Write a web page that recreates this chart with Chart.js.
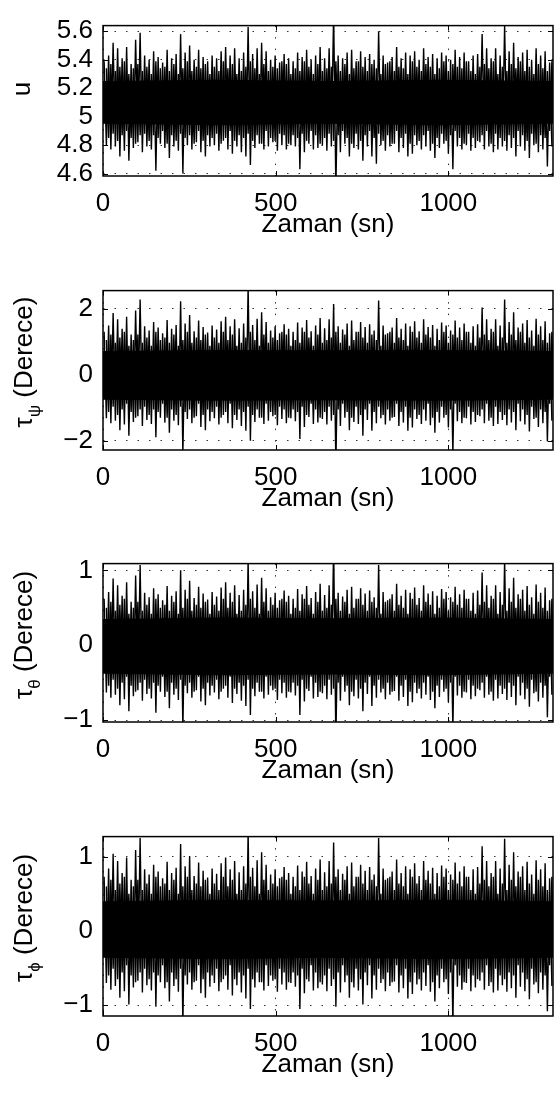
<!DOCTYPE html>
<html>
<head>
<meta charset="utf-8">
<script src="https://cdn.jsdelivr.net/npm/chart.js@4/dist/chart.umd.min.js"></script>
<style>
html, body { margin: 0; padding: 0; background: #fff; }
body { width: 560px; height: 1095px; position: relative; overflow: hidden; font-family: "Liberation Sans", Arial, sans-serif; }
.panel { position: absolute; left: 0; width: 560px; }
.ylab { position: absolute; white-space: nowrap; font-size: 26px; line-height: 26px; color: #000;
  transform: translate(-50%, -50%) rotate(-90deg); }
.ylab sub { font-size: 17px; vertical-align: -8px; }
</style>
</head>
<body>
<div class="panel" style="top:0px"><canvas id="u-chart" width="560" height="248"></canvas></div>
<div class="panel" style="top:265px"><canvas id="psi-chart" width="560" height="257"></canvas></div>
<div class="panel" style="top:538px"><canvas id="theta-chart" width="560" height="256"></canvas></div>
<div class="panel" style="top:811px"><canvas id="phi-chart" width="560" height="277"></canvas></div>

<div class="ylab" style="left:21px;top:89px">u</div>
<div class="ylab" style="left:29px;top:362px">τ<sub>ψ</sub> (Derece)</div>
<div class="ylab" style="left:29px;top:635px">τ<sub>θ</sub> (Derece)</div>
<div class="ylab" style="left:29px;top:918px">τ<sub>ϕ</sub> (Derece)</div>

<script>
var FONT = '"Liberation Sans", Arial, sans-serif';

// time axis (seconds)
var timeEnd = 1303;
var timeTicks = [0, 500, 1000];

// outer peaks of each trace: top, bottom, top, bottom ...
var uPeaks = [
  5.39,4.80, 5.43,4.77, 5.52,4.79, 5.48,4.72, 5.41,4.76, 5.49,4.69, 5.37,4.78, 5.54,4.82, 5.59,4.75, 5.43,4.79,
  5.40,4.77, 5.46,4.62, 5.42,4.81, 5.38,4.78, 5.47,4.71, 5.41,4.79, 5.44,4.76, 5.58,4.60, 5.45,4.80, 5.50,4.77,
  5.40,4.82, 5.47,4.75, 5.42,4.72, 5.39,4.79, 5.43,4.80, 5.41,4.76, 5.46,4.83, 5.49,4.77, 5.43,4.74, 5.48,4.79,
  5.41,4.75, 5.45,4.72, 5.63,4.66, 5.44,4.78, 5.48,4.81, 5.52,4.77, 5.46,4.79, 5.40,4.82, 5.43,4.76, 5.38,4.80,
  5.44,4.77, 5.41,4.80, 5.39,4.79, 5.45,4.63, 5.42,4.75, 5.47,4.81, 5.40,4.77, 5.43,4.78, 5.49,4.80, 5.41,4.76,
  5.48,4.79, 5.73,4.49, 5.43,4.75, 5.41,4.81, 5.45,4.72, 5.47,4.78, 5.39,4.77, 5.46,4.69, 5.42,4.79, 5.44,4.72,
  5.40,4.67, 5.60,4.80, 5.43,4.76, 5.38,4.79, 5.42,4.81, 5.49,4.75, 5.41,4.78, 5.45,4.72, 5.43,4.74, 5.46,4.80,
  5.40,4.77, 5.48,4.79, 5.42,4.76, 5.44,4.71, 5.41,4.78, 5.45,4.81, 5.43,4.74, 5.40,4.63, 5.47,4.79, 5.42,4.77,
  5.45,4.80, 5.39,4.76, 5.43,4.78, 5.44,4.82, 5.58,4.77, 5.48,4.79, 5.41,4.75, 5.48,4.77, 5.43,4.79, 5.64,4.76,
  5.46,4.78, 5.52,4.72, 5.42,4.79, 5.45,4.76, 5.47,4.71, 5.40,4.80, 5.48,4.75, 5.43,4.77, 5.46,4.65, 5.38,4.79
];
var psiPeaks = [
  1.30,-1.32, 1.49,-1.47, 1.87,-1.39, 1.68,-1.68, 1.39,-1.51, 1.76,-1.85, 1.22,-1.43, 1.95,-1.26, 2.28,-1.55, 1.47,-1.37,
  1.34,-1.49, 1.60,-1.89, 1.43,-1.30, 1.26,-1.45, 1.66,-1.76, 1.39,-1.39, 1.51,-1.53, 2.23,-2.40, 1.55,-1.34, 1.81,-1.47,
  1.32,-1.26, 1.64,-1.58, 1.45,-1.68, 1.28,-1.41, 1.49,-1.32, 1.37,-1.51, 1.62,-1.22, 1.76,-1.47, 1.47,-1.62, 1.68,-1.37,
  1.41,-1.55, 1.55,-1.70, 2.70,-2.00, 1.51,-1.43, 1.70,-1.30, 1.89,-1.49, 1.60,-1.39, 1.34,-1.26, 1.47,-1.53, 1.26,-1.34,
  1.53,-1.47, 1.39,-1.32, 1.30,-1.41, 1.58,-1.95, 1.43,-1.58, 1.66,-1.28, 1.32,-1.49, 1.49,-1.45, 1.72,-1.34, 1.41,-1.51,
  1.68,-1.39, 2.14,-2.73, 1.47,-1.55, 1.37,-1.30, 1.55,-1.68, 1.64,-1.43, 1.30,-1.49, 1.60,-1.85, 1.45,-1.37, 1.53,-1.70,
  1.34,-1.47, 2.25,-1.32, 1.49,-1.51, 1.26,-1.39, 1.43,-1.28, 1.72,-1.55, 1.39,-1.45, 1.55,-1.70, 1.47,-1.60, 1.62,-1.34,
  1.32,-1.49, 1.68,-1.39, 1.45,-1.53, 1.51,-1.76, 1.39,-1.45, 1.58,-1.30, 1.49,-1.60, 1.34,-2.40, 1.64,-1.41, 1.43,-1.47,
  1.55,-1.32, 1.30,-1.51, 1.47,-1.43, 1.53,-1.26, 2.04,-1.47, 1.68,-1.39, 1.39,-1.55, 1.68,-1.49, 1.49,-1.37, 2.28,-1.53,
  1.60,-1.45, 1.89,-1.68, 1.43,-1.41, 1.55,-1.51, 1.66,-1.72, 1.34,-1.34, 1.70,-1.58, 1.47,-1.47, 1.62,-2.02, 1.26,-1.39
];
var thetaPeaks = [
  0.62,-0.63, 0.71,-0.70, 0.89,-0.66, 0.80,-0.80, 0.66,-0.72, 0.84,-0.88, 0.58,-0.68, 0.93,-0.60, 1.07,-0.74, 0.70,-0.65,
  0.64,-0.71, 0.76,-0.90, 0.68,-0.62, 0.60,-0.69, 0.79,-0.84, 0.66,-0.66, 0.72,-0.73, 1.00,-1.12, 0.74,-0.64, 0.86,-0.70,
  0.63,-0.60, 0.78,-0.75, 0.69,-0.80, 0.61,-0.67, 0.71,-0.63, 0.65,-0.72, 0.77,-0.58, 0.84,-0.70, 0.70,-0.77, 0.80,-0.65,
  0.67,-0.74, 0.74,-0.81, 1.15,-0.93, 0.72,-0.68, 0.81,-0.62, 0.90,-0.71, 0.76,-0.66, 0.64,-0.60, 0.70,-0.73, 0.60,-0.64,
  0.73,-0.70, 0.66,-0.63, 0.62,-0.67, 0.75,-0.93, 0.68,-0.75, 0.79,-0.61, 0.63,-0.71, 0.71,-0.69, 0.82,-0.64, 0.67,-0.72,
  0.80,-0.66, 1.35,-1.30, 0.70,-0.74, 0.65,-0.62, 0.74,-0.80, 0.78,-0.68, 0.62,-0.71, 0.76,-0.88, 0.69,-0.65, 0.73,-0.81,
  0.64,-0.70, 1.07,-0.63, 0.71,-0.72, 0.60,-0.66, 0.68,-0.61, 0.82,-0.74, 0.66,-0.69, 0.74,-0.81, 0.70,-0.76, 0.77,-0.64,
  0.63,-0.71, 0.80,-0.66, 0.69,-0.73, 0.72,-0.84, 0.66,-0.69, 0.75,-0.62, 0.71,-0.76, 0.64,-1.12, 0.78,-0.67, 0.68,-0.70,
  0.74,-0.63, 0.62,-0.72, 0.70,-0.68, 0.73,-0.60, 0.97,-0.70, 0.80,-0.66, 0.66,-0.74, 0.80,-0.71, 0.71,-0.65, 1.15,-0.73,
  0.76,-0.69, 0.90,-0.80, 0.68,-0.67, 0.74,-0.72, 0.79,-0.82, 0.64,-0.64, 0.81,-0.75, 0.70,-0.70, 0.77,-0.96, 0.60,-0.66
];
var phiPeaks = [
  0.73,-0.70, 0.84,-0.79, 1.04,-0.74, 0.94,-0.90, 0.78,-0.81, 0.99,-0.99, 0.69,-0.76, 1.09,-0.67, 1.25,-0.83, 0.83,-0.73,
  0.76,-0.80, 0.89,-1.02, 0.80,-0.69, 0.71,-0.77, 0.93,-0.95, 0.78,-0.74, 0.85,-0.82, 1.17,-1.27, 0.87,-0.72, 1.01,-0.79,
  0.74,-0.67, 0.92,-0.84, 0.81,-0.90, 0.72,-0.75, 0.84,-0.70, 0.77,-0.81, 0.91,-0.65, 0.99,-0.79, 0.83,-0.87, 0.94,-0.73,
  0.79,-0.83, 0.87,-0.91, 1.34,-1.05, 0.85,-0.76, 0.95,-0.69, 1.06,-0.80, 0.89,-0.74, 0.76,-0.67, 0.83,-0.82, 0.71,-0.72,
  0.86,-0.79, 0.78,-0.70, 0.73,-0.75, 0.88,-1.05, 0.80,-0.84, 0.93,-0.68, 0.74,-0.80, 0.84,-0.77, 0.96,-0.72, 0.79,-0.81,
  0.94,-0.74, 1.19,-1.02, 0.83,-0.83, 0.77,-0.69, 0.87,-0.90, 0.92,-0.76, 0.73,-0.80, 0.89,-0.99, 0.81,-0.73, 0.86,-0.91,
  0.76,-0.79, 1.25,-0.70, 0.84,-0.81, 0.71,-0.74, 0.80,-0.68, 0.96,-0.83, 0.78,-0.77, 0.87,-0.91, 0.83,-0.85, 0.91,-0.72,
  0.74,-0.80, 0.94,-0.74, 0.81,-0.82, 0.85,-0.95, 0.78,-0.77, 0.88,-0.69, 0.84,-0.85, 0.76,-1.27, 0.92,-0.75, 0.80,-0.79,
  0.87,-0.70, 0.73,-0.81, 0.83,-0.76, 0.86,-0.67, 1.14,-0.79, 0.94,-0.74, 0.78,-0.83, 0.94,-0.80, 0.84,-0.73, 1.24,-0.82,
  0.89,-0.77, 1.06,-0.90, 0.80,-0.75, 0.87,-0.81, 0.93,-0.92, 0.76,-0.72, 0.95,-0.84, 0.83,-0.79, 0.91,-1.08, 0.71,-0.74
];

// smaller swings in between the outer peaks (ragged edge of the dense band)
var uInner = [
  5.34,4.85, 5.37,4.88, 5.32,4.83, 5.35,4.87, 5.39,4.90, 5.30,4.85, 5.34,4.81, 5.37,4.87, 5.32,4.88, 5.35,4.83,
  5.30,4.87, 5.39,4.85, 5.34,4.90, 5.35,4.81, 5.32,4.87, 5.37,4.83, 5.30,4.88, 5.34,4.85, 5.39,4.87, 5.32,4.81,
  5.35,4.90, 5.34,4.83, 5.37,4.87, 5.30,4.85, 5.35,4.88, 5.32,4.81, 5.39,4.85, 5.34,4.90, 5.37,4.83, 5.30,4.87,
  5.32,4.85, 5.35,4.88, 5.39,4.83, 5.34,4.87, 5.30,4.81, 5.37,4.90, 5.32,4.85, 5.35,4.83, 5.34,4.88, 5.39,4.87,
  5.37,4.81, 5.30,4.87, 5.34,4.85, 5.32,4.88, 5.39,4.83, 5.35,4.90, 5.30,4.87, 5.37,4.81, 5.32,4.85, 5.34,4.88,
  5.35,4.83, 5.39,4.87, 5.32,4.90, 5.37,4.85, 5.30,4.81, 5.34,4.88, 5.39,4.83, 5.35,4.87, 5.32,4.90, 5.37,4.85,
  5.34,4.88, 5.30,4.83, 5.37,4.87, 5.39,4.81, 5.32,4.90, 5.35,4.85, 5.34,4.88, 5.30,4.81, 5.39,4.87, 5.35,4.83,
  5.32,4.87, 5.37,4.90, 5.35,4.81, 5.30,4.85, 5.34,4.88, 5.39,4.83, 5.32,4.87, 5.37,4.90, 5.35,4.85, 5.34,4.81,
  5.39,4.88, 5.32,4.85, 5.30,4.83, 5.35,4.87, 5.37,4.90, 5.34,4.81, 5.39,4.88, 5.30,4.85, 5.35,4.83, 5.32,4.87,
  5.37,4.85, 5.34,4.90, 5.39,4.87, 5.32,4.83, 5.35,4.88, 5.30,4.81, 5.37,4.87, 5.34,4.85, 5.32,4.90, 5.39,4.83
];
var psiInner = [
  1.05,-1.13, 1.22,-0.97, 0.97,-1.22, 1.13,-1.05, 1.30,-0.88, 0.88,-1.13, 1.05,-1.30, 1.22,-1.05, 0.97,-0.97, 1.13,-1.22,
  0.88,-1.05, 1.30,-1.13, 1.05,-0.88, 1.13,-1.30, 0.97,-1.05, 1.22,-1.22, 0.88,-0.97, 1.05,-1.13, 1.30,-1.05, 0.97,-1.30,
  1.13,-0.88, 1.05,-1.22, 1.22,-1.05, 0.88,-1.13, 1.13,-0.97, 0.97,-1.30, 1.30,-1.13, 1.05,-0.88, 1.22,-1.22, 0.88,-1.05,
  0.97,-1.13, 1.13,-0.97, 1.30,-1.22, 1.05,-1.05, 0.88,-1.30, 1.22,-0.88, 0.97,-1.13, 1.13,-1.22, 1.05,-0.97, 1.30,-1.05,
  1.22,-1.30, 0.88,-1.05, 1.05,-1.13, 0.97,-0.97, 1.30,-1.22, 1.13,-0.88, 0.88,-1.05, 1.22,-1.30, 0.97,-1.13, 1.05,-0.97,
  1.13,-1.22, 1.30,-1.05, 0.97,-0.88, 1.22,-1.13, 0.88,-1.30, 1.05,-0.97, 1.30,-1.22, 1.13,-1.05, 0.97,-0.88, 1.22,-1.13,
  1.05,-0.97, 0.88,-1.22, 1.22,-1.05, 1.30,-1.30, 0.97,-0.88, 1.13,-1.13, 1.05,-0.97, 0.88,-1.30, 1.30,-1.05, 1.13,-1.22,
  0.97,-1.05, 1.22,-0.88, 1.13,-1.30, 0.88,-1.13, 1.05,-0.97, 1.30,-1.22, 0.97,-1.05, 1.22,-0.88, 1.13,-1.13, 1.05,-1.30,
  1.30,-0.97, 0.97,-1.13, 0.88,-1.22, 1.13,-1.05, 1.22,-0.88, 1.05,-1.30, 1.30,-0.97, 0.88,-1.13, 1.13,-1.22, 0.97,-1.05,
  1.22,-1.13, 1.05,-0.88, 1.30,-1.05, 0.97,-1.22, 1.13,-0.97, 0.88,-1.30, 1.22,-1.05, 1.05,-1.13, 0.97,-0.88, 1.30,-1.22
];
var thetaInner = [
  0.50,-0.54, 0.58,-0.46, 0.46,-0.58, 0.54,-0.50, 0.62,-0.42, 0.42,-0.54, 0.50,-0.62, 0.58,-0.50, 0.46,-0.46, 0.54,-0.58,
  0.42,-0.50, 0.62,-0.54, 0.50,-0.42, 0.54,-0.62, 0.46,-0.50, 0.58,-0.58, 0.42,-0.46, 0.50,-0.54, 0.62,-0.50, 0.46,-0.62,
  0.54,-0.42, 0.50,-0.58, 0.58,-0.50, 0.42,-0.54, 0.54,-0.46, 0.46,-0.62, 0.62,-0.54, 0.50,-0.42, 0.58,-0.58, 0.42,-0.50,
  0.46,-0.54, 0.54,-0.46, 0.62,-0.58, 0.50,-0.50, 0.42,-0.62, 0.58,-0.42, 0.46,-0.54, 0.54,-0.58, 0.50,-0.46, 0.62,-0.50,
  0.58,-0.62, 0.42,-0.50, 0.50,-0.54, 0.46,-0.46, 0.62,-0.58, 0.54,-0.42, 0.42,-0.50, 0.58,-0.62, 0.46,-0.54, 0.50,-0.46,
  0.54,-0.58, 0.62,-0.50, 0.46,-0.42, 0.58,-0.54, 0.42,-0.62, 0.50,-0.46, 0.62,-0.58, 0.54,-0.50, 0.46,-0.42, 0.58,-0.54,
  0.50,-0.46, 0.42,-0.58, 0.58,-0.50, 0.62,-0.62, 0.46,-0.42, 0.54,-0.54, 0.50,-0.46, 0.42,-0.62, 0.62,-0.50, 0.54,-0.58,
  0.46,-0.50, 0.58,-0.42, 0.54,-0.62, 0.42,-0.54, 0.50,-0.46, 0.62,-0.58, 0.46,-0.50, 0.58,-0.42, 0.54,-0.54, 0.50,-0.62,
  0.62,-0.46, 0.46,-0.54, 0.42,-0.58, 0.54,-0.50, 0.58,-0.42, 0.50,-0.62, 0.62,-0.46, 0.42,-0.54, 0.54,-0.58, 0.46,-0.50,
  0.58,-0.54, 0.50,-0.42, 0.62,-0.50, 0.46,-0.58, 0.54,-0.46, 0.42,-0.62, 0.58,-0.50, 0.50,-0.54, 0.46,-0.42, 0.62,-0.58
];
var phiInner = [
  0.60,-0.60, 0.69,-0.51, 0.55,-0.65, 0.64,-0.56, 0.73,-0.46, 0.50,-0.60, 0.60,-0.69, 0.69,-0.56, 0.55,-0.51, 0.64,-0.65,
  0.50,-0.56, 0.73,-0.60, 0.60,-0.46, 0.64,-0.69, 0.55,-0.56, 0.69,-0.65, 0.50,-0.51, 0.60,-0.60, 0.73,-0.56, 0.55,-0.69,
  0.64,-0.46, 0.60,-0.65, 0.69,-0.56, 0.50,-0.60, 0.64,-0.51, 0.55,-0.69, 0.73,-0.60, 0.60,-0.46, 0.69,-0.65, 0.50,-0.56,
  0.55,-0.60, 0.64,-0.51, 0.73,-0.65, 0.60,-0.56, 0.50,-0.69, 0.69,-0.46, 0.55,-0.60, 0.64,-0.65, 0.60,-0.51, 0.73,-0.56,
  0.69,-0.69, 0.50,-0.56, 0.60,-0.60, 0.55,-0.51, 0.73,-0.65, 0.64,-0.46, 0.50,-0.56, 0.69,-0.69, 0.55,-0.60, 0.60,-0.51,
  0.64,-0.65, 0.73,-0.56, 0.55,-0.46, 0.69,-0.60, 0.50,-0.69, 0.60,-0.51, 0.73,-0.65, 0.64,-0.56, 0.55,-0.46, 0.69,-0.60,
  0.60,-0.51, 0.50,-0.65, 0.69,-0.56, 0.73,-0.69, 0.55,-0.46, 0.64,-0.60, 0.60,-0.51, 0.50,-0.69, 0.73,-0.56, 0.64,-0.65,
  0.55,-0.56, 0.69,-0.46, 0.64,-0.69, 0.50,-0.60, 0.60,-0.51, 0.73,-0.65, 0.55,-0.56, 0.69,-0.46, 0.64,-0.60, 0.60,-0.69,
  0.73,-0.51, 0.55,-0.60, 0.50,-0.65, 0.64,-0.56, 0.69,-0.46, 0.60,-0.69, 0.73,-0.51, 0.50,-0.60, 0.64,-0.65, 0.55,-0.56,
  0.69,-0.60, 0.60,-0.46, 0.73,-0.56, 0.55,-0.65, 0.64,-0.51, 0.50,-0.69, 0.69,-0.56, 0.60,-0.60, 0.55,-0.46, 0.73,-0.65
];

// solid middle band of each trace (edges)
var coreTimes = [0, 325, 650, 975, 1303];
var uCoreHigh = [5.25, 5.26, 5.25, 5.26, 5.25];
var uCoreLow = [4.95, 4.94, 4.95, 4.94, 4.95];
var psiCoreHigh = [0.72, 0.75, 0.74, 0.75, 0.72];
var psiCoreLow = [-0.76, -0.79, -0.77, -0.79, -0.76];
var thetaCoreHigh = [0.35, 0.37, 0.36, 0.37, 0.35];
var thetaCoreLow = [-0.38, -0.40, -0.39, -0.40, -0.38];
var phiCoreHigh = [0.40, 0.42, 0.41, 0.42, 0.40];
var phiCoreLow = [-0.36, -0.38, -0.36, -0.38, -0.36];

// y tick labels
var uTicks = [4.6, 4.8, 5, 5.2, 5.4, 5.6];
var psiTicks = [-2, 0, 2];
var thetaTicks = [-1, 0, 1];
var phiTicks = [-1, 0, 1];

// box with inward ticks on all four sides, like the original plot
var boxPlugin = {
  id: 'box',
  afterDatasetsDraw: function (chart) {
    var ctx = chart.ctx, a = chart.chartArea;
    var xs = chart.scales.x, ys = chart.scales.y;
    ctx.save();
    ctx.strokeStyle = '#000';
    ctx.lineWidth = 1;
    ctx.beginPath();
    xs.ticks.forEach(function (t) {
      var px = Math.round(xs.getPixelForValue(t.value)) + 0.5;
      ctx.moveTo(px, a.bottom); ctx.lineTo(px, a.bottom - 5);
      ctx.moveTo(px, a.top); ctx.lineTo(px, a.top + 5);
    });
    ys.ticks.forEach(function (t) {
      var py = Math.round(ys.getPixelForValue(t.value)) + 0.5;
      ctx.moveTo(a.left, py); ctx.lineTo(a.left + 5, py);
      ctx.moveTo(a.right, py); ctx.lineTo(a.right - 5, py);
    });
    ctx.stroke();
    ctx.lineWidth = 1.5;
    ctx.strokeRect(a.left, a.top, a.right - a.left, a.bottom - a.top);
    ctx.restore();
  }
};

function formatTick(value) {
  return String(Math.round(value * 10) / 10).replace('-', '\u2212');
}

function toPoints(times, values) {
  return values.map(function (v, i) { return {x: times[i], y: v}; });
}

// peaks are spread evenly over the time axis, inner swings sit between them
function spread(values, shift) {
  var step = timeEnd / values.length;
  return values.map(function (v, k) { return {x: (k + shift) * step, y: v}; });
}

function drawPanel(id, peaks, inner, coreHigh, coreLow, yMin, yMax, yTicks, padTop) {
  var axisFont = {family: FONT, size: 26};
  new Chart(document.getElementById(id).getContext('2d'), {
    type: 'line',
    data: {
      datasets: [
        {data: toPoints(coreTimes, coreHigh), borderWidth: 0, pointRadius: 0, fill: false, clip: 0},
        {data: toPoints(coreTimes, coreLow), borderWidth: 0, pointRadius: 0, fill: '-1', backgroundColor: '#000', clip: 0},
        {data: spread(inner, 1.5), borderColor: '#000', borderWidth: 1.4, pointRadius: 0, tension: 0, fill: false, clip: 0},
        {data: spread(peaks, 0.5), borderColor: '#000', borderWidth: 1.4, pointRadius: 0, tension: 0, fill: false, clip: 0}
      ]
    },
    options: {
      responsive: false,
      animation: false,
      events: [],
      layout: {padding: {top: padTop, right: 7, left: 0, bottom: 0}},
      plugins: {legend: {display: false}, tooltip: {enabled: false}},
      scales: {
        x: {
          type: 'linear', min: 0, max: timeEnd,
          afterBuildTicks: function (s) { s.ticks = timeTicks.map(function (v) { return {value: v}; }); },
          afterFit: function (s) { s.height = 72; },
          grid: {color: '#333', lineWidth: 1, drawTicks: false},
          border: {display: false, dash: [1.5, 10]},
          ticks: {color: '#000', font: axisFont, padding: 12, maxRotation: 0, autoSkip: false, callback: formatTick},
          title: {display: true, text: 'Zaman (sn)', color: '#000', font: axisFont, padding: {top: 0, bottom: 8}}
        },
        y: {
          min: yMin, max: yMax,
          afterBuildTicks: function (s) { s.ticks = yTicks.map(function (v) { return {value: v}; }); },
          afterFit: function (s) { s.width = 103; },
          grid: {color: '#333', lineWidth: 1, drawTicks: false},
          border: {display: false, dash: [1.5, 10]},
          ticks: {color: '#000', font: axisFont, padding: 10, autoSkip: false, callback: formatTick}
        }
      }
    },
    plugins: [boxPlugin]
  });
}

drawPanel('u-chart', uPeaks, uInner, uCoreHigh, uCoreLow, 4.583, 5.64, uTicks, 3);
drawPanel('psi-chart', psiPeaks, psiInner, psiCoreHigh, psiCoreLow, -2.28, 2.55, psiTicks, 10);
drawPanel('theta-chart', thetaPeaks, thetaInner, thetaCoreHigh, thetaCoreLow, -1.024, 1.09, thetaTicks, 10);
drawPanel('phi-chart', phiPeaks, phiInner, phiCoreHigh, phiCoreLow, -1.145, 1.27, phiTicks, 10);
</script>
</body>
</html>
